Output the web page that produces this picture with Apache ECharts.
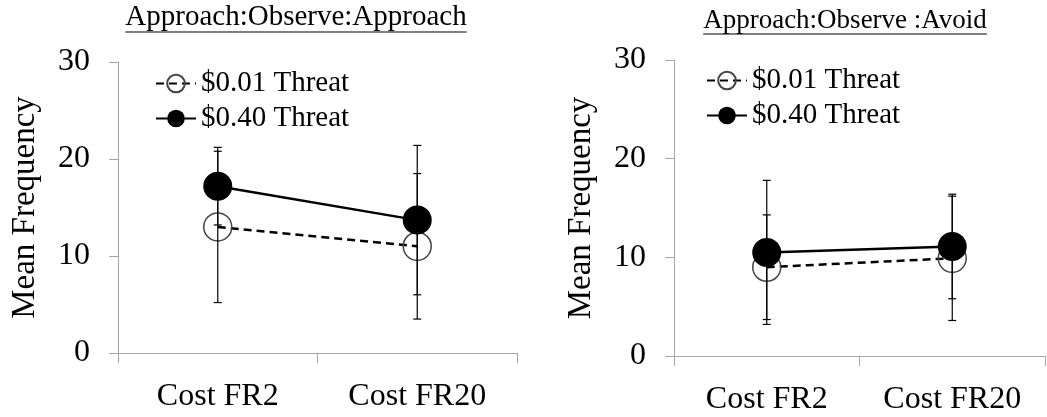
<!DOCTYPE html>
<html>
<head>
<meta charset="utf-8">
<script src="https://cdn.jsdelivr.net/npm/echarts@6/dist/echarts.min.js"></script>
<style>
  html, body { margin: 0; padding: 0; background: #fff; }
  #chart { width: 1047px; height: 417px; }
</style>
</head>
<body>
<div id="chart"></div>
<script>
// data
var categories = ['Cost FR2', 'Cost FR20'];
var yTicks = [0, 10, 20, 30];
var titles = ['Approach:Observe:Approach', 'Approach:Observe :Avoid'];
var seriesNames = ['$0.01 Threat', '$0.40 Threat'];

// left panel
var leftLow = [13.0, 11.0];
var leftLowErr = [7.8, 7.5];
var leftHigh = [17.2, 13.7];
var leftHighErr = [4.0, 7.7];

// right panel
var rightLow = [9.0, 9.9];
var rightLowErr = [5.3, 6.3];
var rightHigh = [10.5, 11.1];
var rightHighErr = [7.3, 5.3];

var FONT = 'Liberation Serif';

function errData(means, errs) {
  return means.map(function (m, i) { return [i, m - errs[i], m + errs[i]]; });
}

function renderErr(params, api) {
  var lo = api.coord([api.value(0), api.value(1)]);
  var hi = api.coord([api.value(0), api.value(2)]);
  var cap = 4;
  var st = { stroke: '#000', lineWidth: 1.2 };
  return {
    type: 'group',
    children: [
      { type: 'line', shape: { x1: lo[0], y1: lo[1], x2: hi[0], y2: hi[1] }, style: st },
      { type: 'line', shape: { x1: lo[0] - cap, y1: lo[1], x2: lo[0] + cap, y2: lo[1] }, style: st },
      { type: 'line', shape: { x1: hi[0] - cap, y1: hi[1], x2: hi[0] + cap, y2: hi[1] }, style: st }
    ]
  };
}

// measure text so the underline fits the title
var ctx = document.createElement('canvas').getContext('2d');
function textWidth(s, size) {
  ctx.font = size + 'px "' + FONT + '"';
  return ctx.measureText(s).width;
}

function xAxis(idx) {
  return {
    type: 'category',
    gridIndex: idx,
    data: categories,
    axisLine: { lineStyle: { color: '#a6a6a6', width: 1 } },
    axisTick: { show: true, length: 10, lineStyle: { color: '#a6a6a6' } },
    axisLabel: { color: '#000', fontFamily: FONT, fontSize: 32, margin: 28 }
  };
}

function yAxis(idx) {
  return {
    type: 'value',
    gridIndex: idx,
    min: yTicks[0],
    max: yTicks[yTicks.length - 1],
    interval: 10,
    name: 'Mean Frequency',
    nameLocation: 'middle',
    nameRotate: 90,
    nameGap: 76,
    nameTextStyle: { color: '#000', fontFamily: FONT, fontSize: 33 },
    axisLine: { show: true, lineStyle: { color: '#a6a6a6', width: 1 } },
    axisTick: { show: true, length: 9, lineStyle: { color: '#a6a6a6' } },
    splitLine: { show: false },
    axisLabel: { color: '#000', fontFamily: FONT, fontSize: 32, margin: 28 }
  };
}

function lowSeries(idx, data) {
  return {
    name: seriesNames[0], type: 'line', xAxisIndex: idx, yAxisIndex: idx,
    data: data, symbol: 'circle', symbolSize: 28,
    lineStyle: { color: '#000', width: 2.5, type: [8, 5] },
    itemStyle: { color: 'rgba(255,255,255,0)', borderColor: '#444', borderWidth: 1.5 },
    z: 2
  };
}
function highSeries(idx, data) {
  return {
    name: seriesNames[1], type: 'line', xAxisIndex: idx, yAxisIndex: idx,
    data: data, symbol: 'circle', symbolSize: 29,
    lineStyle: { color: '#000', width: 2.5 },
    itemStyle: { color: '#000', borderColor: '#000', borderWidth: 0 },
    z: 4
  };
}
function errSeries(idx, data, z) {
  return {
    type: 'custom', xAxisIndex: idx, yAxisIndex: idx,
    renderItem: renderErr, data: data, z: z, silent: true
  };
}

function titleGraphic(text, cx, top, size) {
  var w = textWidth(text, size);
  return {
    type: 'group',
    children: [
      { type: 'text', x: cx - w / 2, y: top,
        style: { text: text, font: size + 'px "' + FONT + '"', fill: '#000' } },
      { type: 'line', shape: { x1: cx - w / 2, y1: top + size, x2: cx + w / 2, y2: top + size },
        style: { stroke: '#000', lineWidth: 1.2 } }
    ]
  };
}

var myChart = echarts.init(document.getElementById('chart'));
var option = {
  backgroundColor: '#fff',
  animation: false,
  grid: [
    { left: 118, top: 62, width: 399, height: 291 },
    { left: 674, top: 60, width: 371, height: 296 }
  ],
  xAxis: [xAxis(0), xAxis(1)],
  yAxis: [yAxis(0), yAxis(1)],
  legend: [
    { data: seriesNames, orient: 'vertical', left: 150, top: 64, itemWidth: 40, itemHeight: 22,
      itemGap: 6, textStyle: { color: '#000', fontFamily: FONT, fontSize: 29 } },
    { data: seriesNames, orient: 'vertical', left: 701, top: 61, itemWidth: 40, itemHeight: 22,
      itemGap: 6, textStyle: { color: '#000', fontFamily: FONT, fontSize: 29 } }
  ],
  graphic: [
    titleGraphic(titles[0], 296, 3, 29),
    titleGraphic(titles[1], 845, 7, 27)
  ],
  series: [
    lowSeries(0, leftLow),
    errSeries(0, errData(leftLow, leftLowErr), 3),
    errSeries(0, errData(leftHigh, leftHighErr), 3),
    highSeries(0, leftHigh),
    lowSeries(1, rightLow),
    errSeries(1, errData(rightLow, rightLowErr), 3),
    errSeries(1, errData(rightHigh, rightHighErr), 3),
    highSeries(1, rightHigh)
  ]
};
myChart.setOption(option);

window.addEventListener('resize', function () {
  myChart.resize();
});
</script>
</body>
</html>
